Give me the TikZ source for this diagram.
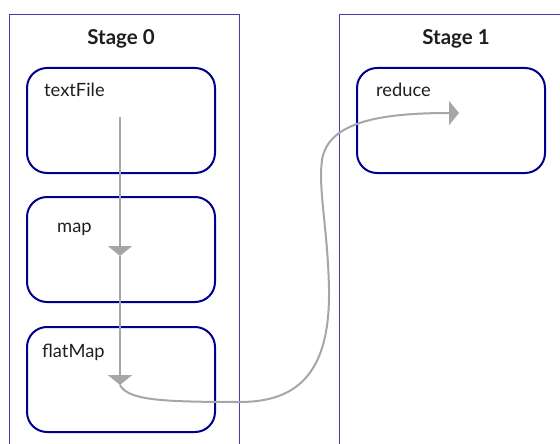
\documentclass[tikz,border=0pt]{standalone}
\usepackage{fontspec}
\setmainfont{Lato}
\usetikzlibrary{arrows.meta,calc}
\definecolor{stageblue}{HTML}{3F3FAF}
\definecolor{opnavy}{HTML}{00008F}
\definecolor{flowgray}{HTML}{A6A6A6}
\definecolor{inktext}{HTML}{1E1E1E}
\tikzset{
  stageframe/.style={draw=stageblue, line width=1pt},
  stagetitle/.style={font=\fontsize{20.5}{24}\selectfont\bfseries, text=inktext, anchor=base, inner sep=0pt},
  opbox/.style={draw=opnavy, line width=2pt, rounded corners=20pt, minimum width=188pt, minimum height=105pt, inner sep=0pt},
  oplabel/.style={font=\fontsize{18.3}{22}\selectfont, text=inktext, anchor=base west, inner sep=0pt},
  flow/.style={draw=flowgray, line width=2pt, -{Triangle[width=24pt,length=10pt]}},
}
\begin{document}
\begin{tikzpicture}[x=1pt, y=-1pt]
  \useasboundingbox (0,0) rectangle (560,444);
  % stage frames, open at the bottom edge
  \draw[stageframe] (9.5,446) |- (239,14.5) -- (239,446);
  \draw[stageframe] (339,446) |- (562,14.5);
  \node[stagetitle] (s0) at (121,45) {Stage 0};
  \node[stagetitle] (s1) at (456,45) {Stage 1};
  % operator boxes
  \node[opbox] (textFile) at (121,120.5) {};
  \node[opbox] (map) at (121,249.5) {};
  \node[opbox] (flatMap) at (121,379.5) {};
  \node[opbox] (reduce) at (451,120.5) {};
  \node[oplabel] (lTextFile) at (44,96) {textFile};
  \node[oplabel] (lMap) at (57,232) {map};
  \node[oplabel] (lFlatMap) at (42,357) {flatMap};
  \node[oplabel] (lReduce) at (376,96) {reduce};
  % flow points inside the boxes
  \coordinate (tfOut) at ($(textFile.center)+(-1,-3.5)$);
  \coordinate (mapIn) at ($(map.center)+(-1,6.5)$);
  \coordinate (fmIn) at ($(flatMap.center)+(-1,5.5)$);
  \coordinate (redIn) at ($(reduce.center)+(8,-7.5)$);
  \draw[flow] (tfOut) -- (mapIn);
  \draw[flow] (mapIn) -- (fmIn);
  \draw[flow] (fmIn) .. controls (128,400) and (160,402) .. (240,402)
    .. controls (300,402) and (330,370) .. (329,290)
    .. controls (328,230) and (318,190) .. (322,160)
    .. controls (328,122) and (380,113) .. (redIn);
\end{tikzpicture}
\end{document}
